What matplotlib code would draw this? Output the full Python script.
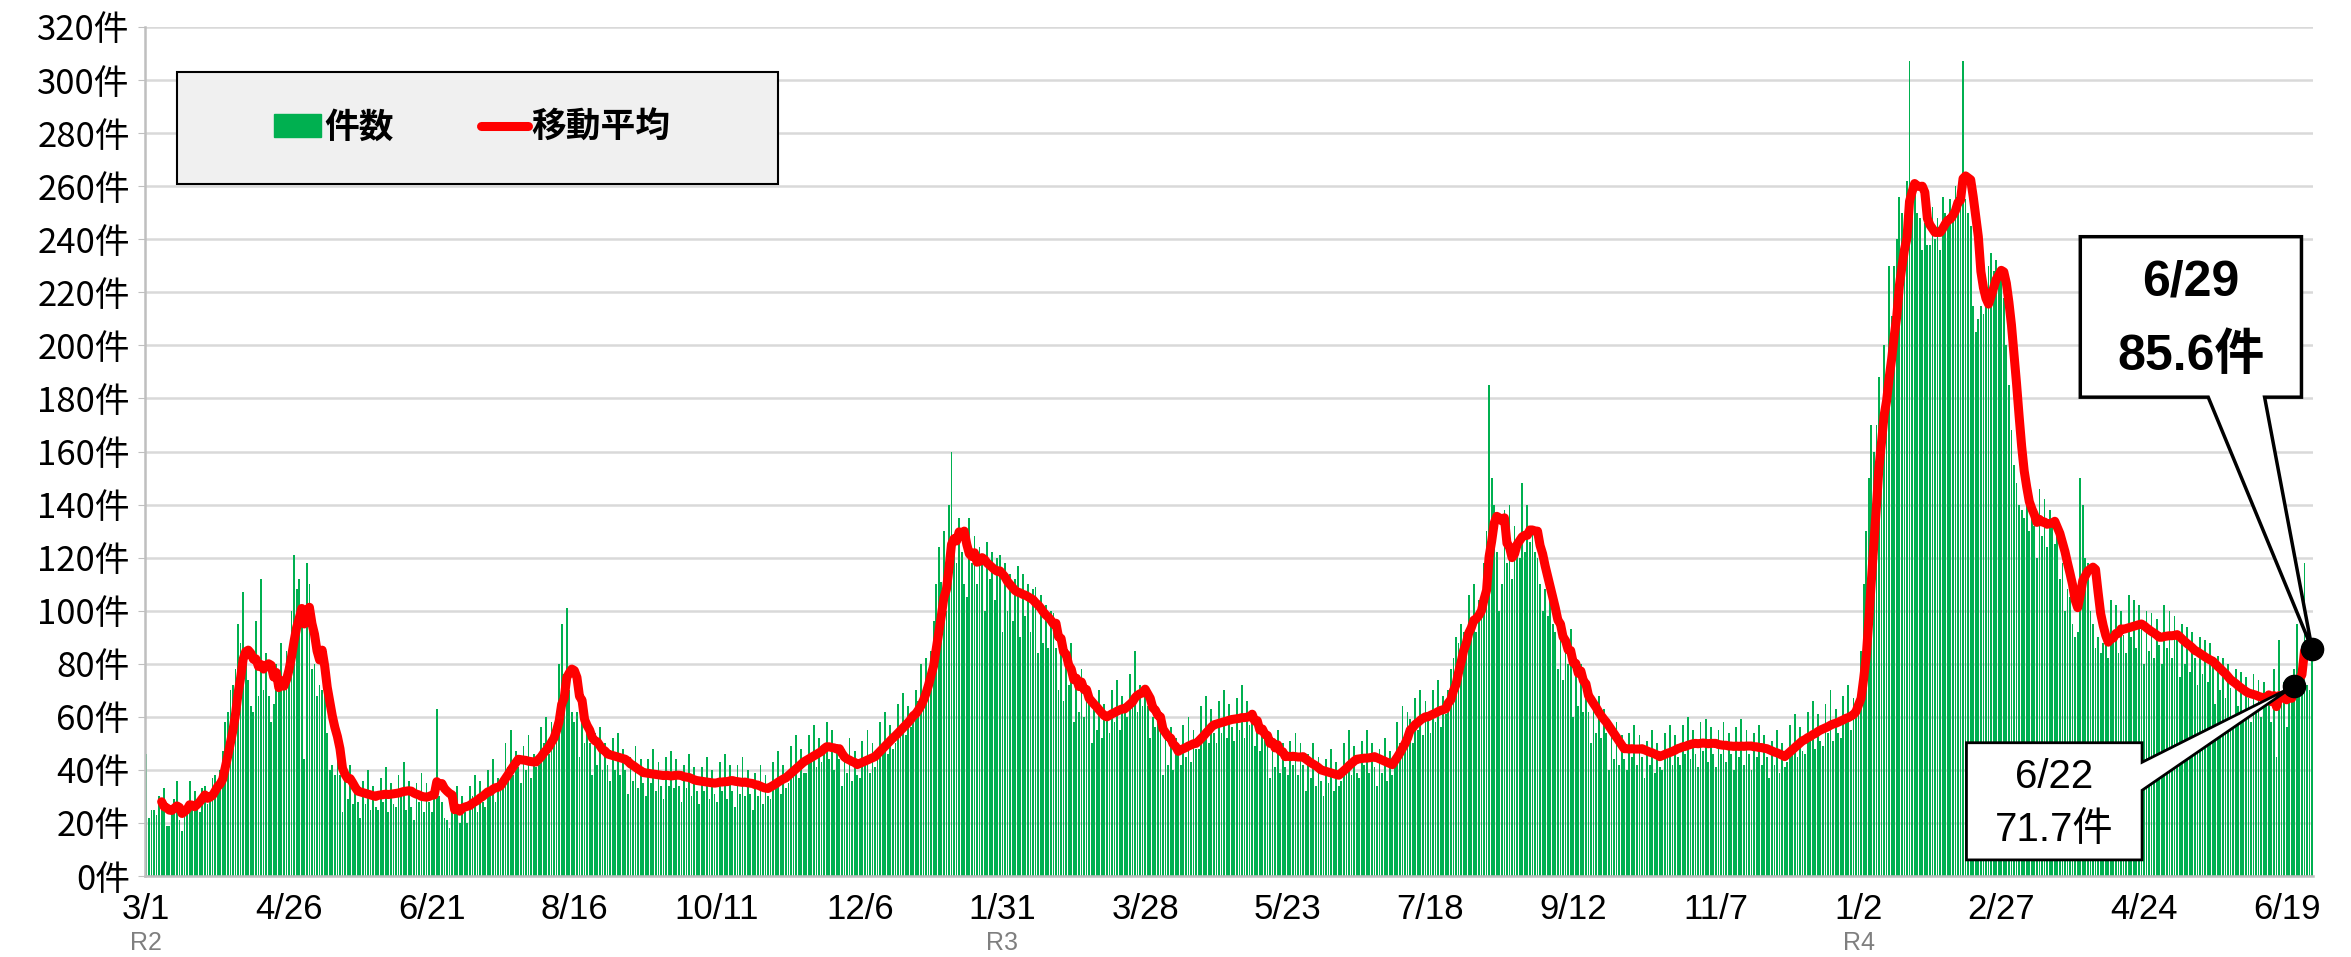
import matplotlib
matplotlib.use("Agg")
import matplotlib.pyplot as plt
from matplotlib.patches import Rectangle, Polygon
from matplotlib.lines import Line2D
import matplotlib.transforms as mtransforms
import pandas as pd

plt.rcParams['font.family'] = ['Liberation Sans', 'Noto Sans CJK JP']

start_date = '2020-03-01'

# daily counts, one row per week (Sun..Sat), 2020-03-01 .. 2022-06-29
daily_counts = [
    46, 22, 25, 25, 23, 30, 25,
    33, 19, 19, 24, 29, 36, 21,
    17, 24, 25, 36, 28, 32, 27,
    24, 33, 34, 27, 31, 37, 38,
    36, 40, 47, 58, 62, 70, 72,
    78, 95, 88, 107, 82, 74, 64,
    62, 96, 68, 112, 70, 84, 68,
    58, 65, 80, 72, 88, 70, 85,
    84, 100, 121, 108, 112, 96, 44,
    118, 110, 78, 80, 68, 72, 70,
    76, 54, 40, 42, 38, 48, 38,
    24, 38, 29, 42, 27, 36, 28,
    22, 36, 27, 40, 25, 34, 26,
    25, 37, 28, 41, 24, 35, 27,
    26, 38, 30, 43, 25, 36, 26,
    21, 35, 28, 39, 24, 35, 28,
    24, 36, 63, 30, 28, 22, 21,
    18, 32, 24, 34, 20, 30, 24,
    20, 34, 30, 38, 24, 36, 28,
    26, 40, 31, 44, 28, 37, 32,
    36, 50, 41, 55, 38, 47, 41,
    35, 49, 40, 53, 37, 46, 41,
    42, 56, 50, 60, 46, 58, 52,
    62, 80, 95, 76, 101, 70, 62,
    58, 62, 45, 66, 50, 54, 50,
    38, 54, 42, 56, 40, 50, 42,
    36, 52, 40, 54, 38, 48, 40,
    31, 45, 36, 49, 33, 44, 35,
    30, 44, 35, 48, 32, 43, 34,
    29, 45, 34, 47, 33, 44, 34,
    28, 42, 33, 46, 30, 41, 32,
    27, 41, 32, 45, 29, 40, 31,
    28, 43, 32, 46, 29, 42, 32,
    26, 42, 31, 45, 30, 40, 31,
    25, 39, 30, 42, 27, 38, 30,
    29, 43, 34, 47, 31, 42, 33,
    35, 49, 40, 53, 37, 48, 39,
    39, 53, 44, 57, 41, 52, 43,
    46, 58, 44, 55, 40, 49, 44,
    34, 48, 39, 52, 36, 47, 38,
    37, 51, 42, 55, 39, 50, 41,
    44, 58, 49, 62, 46, 57, 48,
    50, 65, 56, 69, 53, 64, 56,
    60, 70, 66, 80, 68, 82, 78,
    85, 96, 110, 124, 111, 130, 100,
    140, 160, 125, 118, 135, 122, 110,
    105, 135, 118, 128, 110, 124, 120,
    100, 126, 112, 122, 104, 120, 121,
    92, 118, 100, 114, 96, 112, 117,
    90, 114, 98, 110, 92, 108, 109,
    84, 106, 88, 102, 86, 100, 99,
    86, 70, 84, 66, 80, 72, 88,
    58, 74, 62, 78, 60, 72, 65,
    50, 66, 55, 70, 52, 65, 62,
    54, 70, 58, 74, 55, 68, 62,
    60, 76, 64, 85, 62, 72, 64,
    70, 64, 52, 60, 56, 58, 60,
    38, 54, 42, 56, 40, 52, 47,
    42, 57, 45, 60, 43, 55, 48,
    48, 64, 52, 68, 50, 63, 54,
    50, 66, 54, 70, 52, 65, 56,
    51, 67, 55, 72, 52, 66, 57,
    58, 49, 56, 47, 55, 52, 54,
    37, 52, 41, 55, 39, 50, 41,
    38, 51, 42, 54, 38, 50, 42,
    32, 46, 37, 50, 34, 45, 36,
    30, 44, 35, 48, 32, 43, 34,
    36, 50, 41, 55, 38, 49, 39,
    37, 51, 42, 55, 39, 50, 41,
    34, 48, 39, 52, 36, 47, 38,
    44, 58, 50, 64, 48, 62, 59,
    50, 67, 55, 70, 53, 66, 59,
    54, 70, 58, 74, 56, 68, 61,
    70, 78, 82, 90, 88, 95, 92,
    88, 106, 96, 110, 92, 104, 104,
    118, 130, 185, 150, 140, 122, 100,
    110, 138, 118, 140, 112, 132, 125,
    120, 148, 122, 140, 126, 132, 122,
    120, 110, 100, 108, 98, 104, 95,
    92, 78, 90, 74, 88, 80, 93,
    60, 76, 64, 80, 62, 72, 62,
    50, 65, 54, 68, 52, 63, 54,
    40, 55, 44, 58, 42, 53, 44,
    40, 54, 45, 57, 42, 53, 45,
    37, 51, 42, 55, 39, 50, 41,
    40, 54, 45, 57, 42, 53, 45,
    42, 57, 46, 60, 44, 55, 46,
    41, 58, 47, 59, 43, 56, 46,
    41, 55, 46, 58, 43, 54, 46,
    40, 56, 45, 59, 42, 55, 46,
    40, 54, 45, 57, 42, 53, 45,
    37, 51, 42, 55, 39, 50, 41,
    43, 57, 48, 61, 45, 56, 47,
    46, 62, 51, 66, 48, 61, 51,
    49, 65, 54, 70, 51, 63, 54,
    52, 68, 58, 72, 55, 67, 62,
    70, 85, 110, 130, 150, 170, 160,
    170, 188, 176, 200, 190, 230, 211,
    230, 240, 256, 250, 235, 262, 307,
    255, 262, 250, 248, 236, 246, 238,
    238, 252, 240, 248, 236, 256, 250,
    248, 255, 250, 260, 258, 262, 307,
    255, 250, 245, 215, 205, 210, 215,
    212, 222, 230, 235, 228, 232, 226,
    225, 218, 200, 185, 168, 155, 148,
    140, 138, 135, 142, 130, 136, 132,
    120, 146, 128, 142, 124, 138, 133,
    125, 130, 112, 118, 100, 108, 105,
    95, 90, 92, 150, 140, 120, 118,
    100, 95, 86, 90, 84, 88, 92,
    82, 104, 88, 102, 84, 100, 91,
    84, 106, 90, 104, 86, 102, 93,
    80, 100, 85, 99, 82, 97, 87,
    80, 102, 86, 100, 82, 98, 89,
    75, 95, 80, 94, 77, 92, 82,
    72, 90, 76, 89, 73, 88, 79,
    65, 83, 70, 82, 67, 80, 71,
    60, 78, 64, 77, 62, 75, 67,
    58, 76, 62, 74, 60, 73, 66,
    67, 58, 78, 45, 89, 66, 73,
    56, 66, 74, 78, 95, 78, 84,
    118, 72, 70, 82,
]

tick_labels = ['3/1', '4/26', '6/21', '8/16', '10/11', '12/6', '1/31', '3/28',
               '5/23', '7/18', '9/12', '11/7', '1/2', '2/27', '4/24', '6/19']
era_labels = ['R2', 'R3', 'R4']
era_at = ['3/1', '1/31', '1/2']

callout_dates = ['2022-06-22', '2022-06-29']
callout_text = [('6/22', '71.7件'), ('6/29', '85.6件')]

n = len(daily_counts)
days = list(range(n))
ma = pd.Series(daily_counts).rolling(7).mean()
start = pd.Timestamp(start_date)

fig = plt.figure(figsize=(23.51, 9.57), dpi=100)
ax = fig.add_axes([0.0617, 0.0846, 0.9223, 0.8872])

ax.bar(days, daily_counts, width=0.7, color='#00b050', linewidth=0, zorder=2)
ax.plot(days, ma, color='#ff0000', lw=6.5, solid_capstyle='round',
        solid_joinstyle='round', zorder=3)

narrow = ['Liberation Sans Narrow', 'Noto Sans CJK JP']
ax.set_xlim(-0.5, n - 0.5)
ax.set_ylim(0, 320)
ax.set_yticks(range(0, 321, 20))
ax.set_yticklabels([f'{v}件' for v in range(0, 321, 20)], fontsize=25,
                   family=narrow)
ax.set_xticks(range(0, 56 * len(tick_labels), 56))
ax.set_xticklabels(tick_labels, fontsize=25)
ax.tick_params(axis='x', length=0, pad=12)
ax.tick_params(axis='y', length=5, color='#bfbfbf', pad=6)

ax.grid(axis='y', color='#d9d9d9', lw=1.8)
ax.set_axisbelow(True)
for s in ['top', 'right']:
    ax.spines[s].set_visible(False)
for s in ['left', 'bottom']:
    ax.spines[s].set_color('#bfbfbf')
    ax.spines[s].set_linewidth(1.8)

trans = mtransforms.blended_transform_factory(ax.transData, ax.transAxes)
for lab, at in zip(era_labels, era_at):
    x = 56 * tick_labels.index(at)
    ax.text(x, -0.079, lab, transform=trans, ha='center', va='center',
            fontsize=18, color='#7f7f7f')

# legend box
ax.add_patch(Rectangle((0.0148, 0.815), 0.277, 0.132, transform=ax.transAxes,
                       facecolor='#f0f0f0', edgecolor='black', lw=1.5, zorder=5))
handles = [Rectangle((0, 0), 1, 1, color='#00b050'),
           Line2D([], [], color='#ff0000', lw=6.5, solid_capstyle='round')]
leg = ax.legend(handles, ['件数', '移動平均'], loc='center left',
                bbox_to_anchor=(0.0595, 0.881), ncol=2, frameon=False,
                borderpad=0, borderaxespad=0,
                prop={'size': 25, 'weight': 'bold'}, handlelength=1.35,
                handleheight=0.65, handletextpad=0.1, columnspacing=2.5)
leg.set_zorder(6)

# callouts
to_axes = ax.transData + ax.transAxes.inverted()
idx = [(pd.Timestamp(d) - start).days for d in callout_dates]
tips = [to_axes.transform((i, ma[i])) for i in idx]
ax.plot(idx, [ma[i] for i in idx], 'o', color='black', ms=16, zorder=8,
        clip_on=False)

# 6/22 box, pointer from right edge
x0, x1, yb, yt = 0.840, 0.921, 0.019, 0.157
tx, ty = tips[0]
ax.add_patch(Polygon([(x0, yt), (x1, yt), (x1, 0.134), (tx, ty), (x1, 0.101),
                      (x1, yb), (x0, yb)], closed=True, transform=ax.transAxes,
                     facecolor='white', edgecolor='black', lw=2, zorder=7))
ax.text((x0 + x1) / 2, 0.117, callout_text[0][0], transform=ax.transAxes,
        ha='center', va='center', fontsize=29, zorder=9)
ax.text((x0 + x1) / 2, 0.054, callout_text[0][1], transform=ax.transAxes,
        ha='center', va='center', fontsize=29, zorder=9)

# 6/29 box, pointer from bottom edge
x0, x1, yb, yt = 0.8925, 0.9945, 0.564, 0.753
tx, ty = tips[1]
ax.add_patch(Polygon([(x0, yt), (x1, yt), (x1, yb), (0.9775, yb), (tx, ty),
                      (0.9515, yb), (x0, yb)], closed=True, transform=ax.transAxes,
                     facecolor='white', edgecolor='black', lw=2.5, zorder=7,
                     clip_on=False))
ax.text((x0 + x1) / 2, 0.699, callout_text[1][0], transform=ax.transAxes,
        ha='center', va='center', fontsize=36, fontweight='bold', zorder=9)
ax.text((x0 + x1) / 2, 0.612, callout_text[1][1], transform=ax.transAxes,
        ha='center', va='center', fontsize=36, fontweight='bold', zorder=9)

fig.savefig('out.png', dpi=100)
